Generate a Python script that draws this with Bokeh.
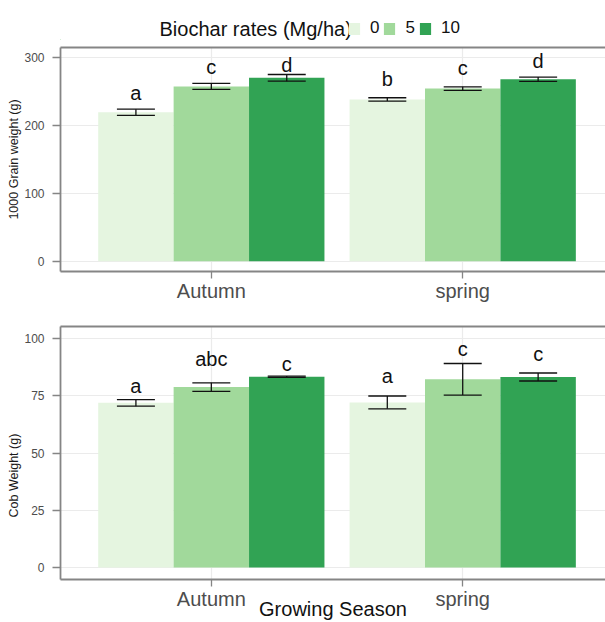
from bokeh.plotting import figure
from bokeh.models import (Range1d, FixedTicker, LinearAxis, Label, Legend, LegendItem,
                          Whisker, TeeHead, ColumnDataSource, Title)
from bokeh.layouts import column
from bokeh.core.properties import value
from bokeh.embed import file_html
from bokeh.resources import INLINE

# ---------------- data ----------------
seasons = ["Autumn", "spring"]
rates = ["0", "5", "10"]
rate_colors = ["#e5f5e0", "#a1d99b", "#31a354"]

grain_0 = [219.5, 238.5]
grain_5 = [257.7, 254.5]
grain_10 = [270.3, 268.2]
grain_se_0 = [4.6, 2.5]
grain_se_5 = [4.4, 2.6]
grain_se_10 = [4.9, 3.2]
grain_letters_0 = ["a", "b"]
grain_letters_5 = ["c", "c"]
grain_letters_10 = ["d", "d"]
grain_letter_y_0 = [237.5, 259.0]
grain_letter_y_5 = [275.8, 274.0]
grain_letter_y_10 = [279.0, 285.3]
grain_ticks = [0, 100, 200, 300]

cob_0 = [71.9, 72.1]
cob_5 = [78.8, 82.2]
cob_10 = [83.3, 83.2]
cob_se_0 = [1.45, 2.8]
cob_se_5 = [1.85, 6.9]
cob_se_10 = [0.3, 1.75]
cob_letters_0 = ["a", "a"]
cob_letters_5 = ["abc", "c"]
cob_letters_10 = ["c", "c"]
cob_letter_y_0 = [76.2, 80.5]
cob_letter_y_5 = [87.9, 92.2]
cob_letter_y_10 = [85.9, 90.2]
cob_ticks = [0, 25, 50, 75, 100]

FONT = "Liberation Sans"
FONT_VALUE = value(FONT)
FRAME = "#858585"
GRID = "#ebebeb"
TICKTXT = "#4d4d4d"
W = 605

dodge = 0.9
bar_w = dodge / len(rates)
offsets = [(i - 1) * bar_w for i in range(len(rates))]
season_pos = [i + 1 for i in range(len(seasons))]


def make_panel(height, b_top, b_bottom, y_start, y_end, ticks, means, ses, letters, letter_ys,
               ytitle, ytitle_align, ytitle_offset, xlabel=None):
    p = figure(width=W, height=height, x_range=Range1d(0.4, 2.568),
               y_range=Range1d(y_start, y_end), output_backend="svg",
               toolbar_location=None, min_border_left=60, min_border_right=0,
               min_border_top=b_top, min_border_bottom=b_bottom,
               background_fill_color="white", border_fill_color="white")
    p.outline_line_color = None

    xa = p.xaxis[0]
    xa.ticker = FixedTicker(ticks=season_pos)
    xa.major_label_overrides = {pos: s for pos, s in zip(season_pos, seasons)}
    xa.major_label_text_font = FONT
    xa.major_label_text_font_size = "20px"
    xa.major_label_text_color = TICKTXT
    xa.major_label_standoff = 1
    xa.major_tick_out = 7
    xa.major_tick_in = 0
    xa.minor_tick_out = 0
    xa.minor_tick_in = 0
    xa.axis_line_color = FRAME
    xa.axis_line_width = 1.8
    xa.major_tick_line_color = FRAME
    xa.major_tick_line_width = 1.3
    if xlabel:
        xa.axis_label = xlabel
        xa.axis_label_text_font = FONT
        xa.axis_label_text_font_size = "20px"
        xa.axis_label_text_font_style = "normal"
        xa.axis_label_text_color = "#111111"
        xa.axis_label_standoff = -15

    ya = p.yaxis[0]
    ya.ticker = FixedTicker(ticks=ticks)
    ya.major_label_text_font = FONT
    ya.major_label_text_font_size = "12px"
    ya.major_label_text_color = TICKTXT
    ya.major_label_standoff = 8
    ya.major_tick_out = 8
    ya.major_tick_in = 0
    ya.minor_tick_out = 0
    ya.minor_tick_in = 0
    ya.axis_line_color = FRAME
    ya.axis_line_width = 1.8
    ya.major_tick_line_color = FRAME
    ya.major_tick_line_width = 1.3

    top_axis = LinearAxis(ticker=FixedTicker(ticks=[]), major_tick_out=0, major_tick_in=0,
                          minor_tick_out=0, minor_tick_in=0, major_label_text_font_size="0px",
                          axis_line_color=FRAME, axis_line_width=1.8)
    p.add_layout(top_axis, "above")

    p.add_layout(Title(text=ytitle, align=ytitle_align, offset=ytitle_offset, standoff=2,
                       text_font=FONT, text_font_size="12.5px", text_font_style="normal",
                       text_color="#1a1a1a"), "left")

    p.xgrid.ticker = FixedTicker(ticks=season_pos)
    p.ygrid.ticker = FixedTicker(ticks=ticks)
    p.xgrid.grid_line_color = GRID
    p.ygrid.grid_line_color = GRID
    p.xgrid.grid_line_width = 1.2
    p.ygrid.grid_line_width = 1.2

    for i, (m, se, lt, ly) in enumerate(zip(means, ses, letters, letter_ys)):
        xs = [sp + offsets[i] for sp in season_pos]
        src = ColumnDataSource(dict(x=xs, top=m, upper=[a + b for a, b in zip(m, se)],
                                    lower=[a - b for a, b in zip(m, se)], lab=lt, ly=ly))
        p.vbar(x="x", top="top", bottom=0, width=bar_w, source=src,
               fill_color=rate_colors[i], line_color=None)
        p.add_layout(Whisker(base="x", upper="upper", lower="lower", source=src,
                             level="overlay", line_color="#111111", line_width=1.3,
                             upper_head=TeeHead(size=38, line_color="#111111", line_width=1.3),
                             lower_head=TeeHead(size=38, line_color="#111111", line_width=1.3)))
        p.text(x="x", y="ly", text="lab", source=src, text_align="center",
               text_baseline="alphabetic", text_font_size="20px", y_offset=-7,
               text_color="#111111", text_font=FONT_VALUE)
    return p


# ---------------- header with legend ----------------
hdr = figure(width=W, height=40, x_range=Range1d(0, W), y_range=Range1d(0, 40),
             output_backend="svg", toolbar_location=None, min_border=0,
             x_axis_type=None, y_axis_type=None, background_fill_color="white",
             border_fill_color="white")
hdr.outline_line_color = None
hdr.grid.visible = False
# off-range placeholder glyphs that only provide the legend key colours
key_renderers = [hdr.vbar(x=[-1000], top=[1], width=1, fill_color=c, line_color=None)
                 for c in rate_colors]
hdr.add_layout(Label(x=99, y=12, x_units="screen", y_units="screen",
                     text="Biochar rates (Mg/ha)", text_align="left",
                     text_baseline="alphabetic", text_font=FONT, text_font_size="20px",
                     text_color="#111111"))
legend = Legend(items=[LegendItem(label=r, renderers=[rr]) for r, rr in zip(rates, key_renderers)],
                orientation="horizontal", location=(287, 2),
                glyph_width=14, glyph_height=15, label_height=15, label_width=9,
                label_standoff=9, spacing=3, padding=0, margin=0,
                border_line_color=None, background_fill_alpha=0,
                label_text_font=FONT, label_text_font_size="17px", label_text_color="#111111")
hdr.add_layout(legend)

p1 = make_panel(268, 7, 37, -15, 315, grain_ticks,
                [grain_0, grain_5, grain_10], [grain_se_0, grain_se_5, grain_se_10],
                [grain_letters_0, grain_letters_5, grain_letters_10],
                [grain_letter_y_0, grain_letter_y_5, grain_letter_y_10],
                "1000 Grain weight (g)", "center", 0)
p2 = make_panel(314, 18, 40, -5.25, 105.25, cob_ticks,
                [cob_0, cob_5, cob_10], [cob_se_0, cob_se_5, cob_se_10],
                [cob_letters_0, cob_letters_5, cob_letters_10],
                [cob_letter_y_0, cob_letter_y_5, cob_letter_y_10],
                "Cob Weight (g)", "left", 62, xlabel="Growing Season")

layout = column(hdr, p1, p2, spacing=0)
open("out.html", "w").write(file_html(layout, INLINE))
